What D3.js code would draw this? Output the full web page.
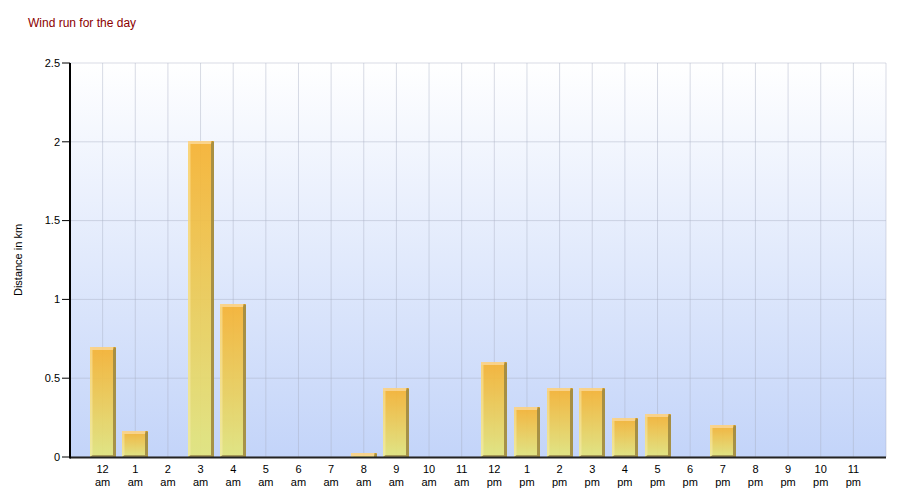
<!DOCTYPE html>
<html>
<head>
<meta charset="utf-8">
<script src="https://cdn.jsdelivr.net/npm/d3@7"></script>
<style>
  html, body { margin: 0; padding: 0; background: #ffffff; }
  svg { display: block; font-family: "Liberation Sans", Arial, sans-serif; }
</style>
</head>
<body>
<svg id="chart" width="900" height="500"></svg>
<script>
const hours = ["12", "1", "2", "3", "4", "5", "6", "7", "8", "9", "10", "11",
               "12", "1", "2", "3", "4", "5", "6", "7", "8", "9", "10", "11"];
const periods = ["am","am","am","am","am","am","am","am","am","am","am","am",
                 "pm","pm","pm","pm","pm","pm","pm","pm","pm","pm","pm","pm"];
const values = [0.70, 0.165, 0, 2.005, 0.97, 0, 0, 0, 0.025, 0.44, 0, 0,
                0.60, 0.32, 0.44, 0.44, 0.25, 0.27, 0, 0.2, 0, 0, 0, 0];
const yTicks = [0, 0.5, 1, 1.5, 2, 2.5];
const yTickLabels = ["0", "0.5", "1", "1.5", "2", "2.5"];

const svg = d3.select("#chart");
const L = 70, R = 886, T = 63, B = 457;

const x = d3.scaleLinear().domain([0, hours.length + 1]).range([L, R]);
const y = d3.scaleLinear().domain([0, 2.5]).range([B, T]);

const defs = svg.append("defs");
const bg = defs.append("linearGradient").attr("id", "bg").attr("x1", 0).attr("y1", 0).attr("x2", 0).attr("y2", 1);
bg.append("stop").attr("offset", "0%").attr("stop-color", "#ffffff");
bg.append("stop").attr("offset", "100%").attr("stop-color", "#c3d4f9");

const bar = defs.append("linearGradient").attr("id", "barg")
  .attr("x1", 0).attr("y1", 0).attr("x2", 0).attr("y2", 1);
bar.append("stop").attr("offset", "0%").attr("stop-color", "#f6b232");
bar.append("stop").attr("offset", "100%").attr("stop-color", "#e2e67e");

// Title
svg.append("text").attr("x", 28).attr("y", 27).attr("font-size", 12)
  .attr("fill", "#8b0000").text("Wind run for the day");

// Plot background
svg.append("rect").attr("x", L).attr("y", T).attr("width", R - L).attr("height", B - T)
  .attr("fill", "url(#bg)");

// Grid
const grid = svg.append("g");
yTicks.forEach(t => {
  grid.append("line").attr("x1", L).attr("x2", R).attr("y1", y(t)).attr("y2", y(t))
    .attr("stroke", "#a8b0c4").attr("stroke-opacity", 0.45).attr("stroke-width", 1);
});
const gx = d3.range(1, hours.length + 2);
gx.forEach(i => {
  grid.append("line").attr("x1", x(i)).attr("x2", x(i)).attr("y1", T).attr("y2", B)
    .attr("stroke", "#a8b0c4").attr("stroke-opacity", 0.45).attr("stroke-width", 1);
});

// Bars with 3D look
const bw = 26, side = 3;
const bars = svg.append("g");
values.forEach((v, i) => {
  if (v <= 0) return;
  const cx = x(i + 1);
  const x0 = Math.round(cx - bw / 2), top = Math.round(y(v)), h = B - top;
  const g = bars.append("g").attr("opacity", 0.93);
  // front face
  g.append("rect").attr("x", x0).attr("y", top).attr("width", bw).attr("height", h)
    .attr("fill", "url(#barg)");
  // light left strip
  g.append("rect").attr("x", x0).attr("y", top).attr("width", 2.5).attr("height", h)
    .attr("fill", "#fff2b0").attr("fill-opacity", 0.5);
  // light top strip
  g.append("rect").attr("x", x0).attr("y", top).attr("width", bw - side).attr("height", Math.min(3, h))
    .attr("fill", "#fcd488").attr("fill-opacity", 0.95);
  // dark right side
  g.append("path")
    .attr("d", `M${x0 + bw - side},${top + side} L${x0 + bw - side + 1},${top} L${x0 + bw},${top + 1} L${x0 + bw},${B} L${x0 + bw - side},${B} Z`)
    .attr("fill", "#9c8434").attr("fill-opacity", 0.9);
  // dark bottom strip
  if (h > 4) {
    g.append("path")
      .attr("d", `M${x0 + 2.5},${B - 2} L${x0 + bw - side},${B - 2} L${x0 + bw - side},${B} L${x0},${B} Z`)
      .attr("fill", "#9c8a44").attr("fill-opacity", 0.85);
  }
});

// Axes lines
svg.append("line").attr("x1", L).attr("x2", R).attr("y1", B + 0.5).attr("y2", B + 0.5)
  .attr("stroke", "#222").attr("stroke-width", 2);
svg.append("line").attr("x1", L).attr("x2", L).attr("y1", T).attr("y2", B + 1.5)
  .attr("stroke", "#000").attr("stroke-width", 2);

// Y ticks
const yt = svg.append("g");
yTicks.forEach((t, k) => {
  yt.append("line").attr("x1", L - 8).attr("x2", L).attr("y1", y(t)).attr("y2", y(t))
    .attr("stroke", "#000").attr("stroke-width", 1);
  yt.append("text").attr("x", L - 10).attr("y", y(t)).attr("dy", "0.35em")
    .attr("text-anchor", "end").attr("font-size", 11).attr("fill", "#000").text(yTickLabels[k]);
});

// X labels
const xl = svg.append("g").attr("font-size", 11).attr("fill", "#000").attr("text-anchor", "middle");
hours.forEach((hh, i) => {
  const cx = x(i + 1);
  xl.append("text").attr("x", cx).attr("y", 473).text(hh);
  xl.append("text").attr("x", cx).attr("y", 486).text(periods[i]);
});

// Y axis title
svg.append("text").attr("transform", `translate(22,${(T + B) / 2}) rotate(-90)`)
  .attr("text-anchor", "middle").attr("font-size", 11).attr("fill", "#000").text("Distance in km");
</script>
</body>
</html>
